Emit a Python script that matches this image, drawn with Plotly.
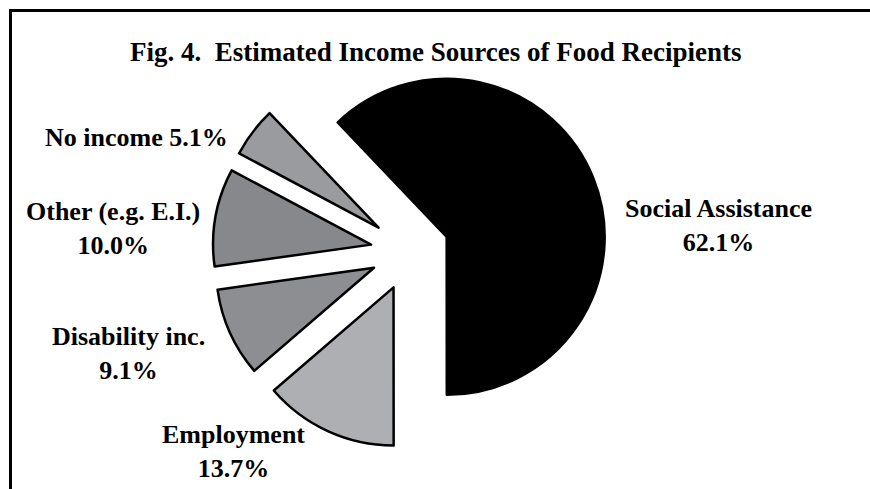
import plotly.graph_objects as go

# ---- data ----
categories = ["Social Assistance", "Employment", "Disability inc.", "Other (e.g. E.I.)", "No income"]
values = [62.1, 13.7, 9.1, 10.0, 5.1]
label_lines = [True, True, True, True, False]  # two-line label?

colors = ["#000000", "#aeafb3", "#8d8e92", "#87888c", "#9a9b9f"]

W, H = 870, 489
FONT = "'Liberation Serif', 'Times New Roman', Times, serif"

fig = go.Figure()
fig.add_trace(go.Pie(
    labels=categories,
    values=values,
    sort=False,
    direction="clockwise",
    rotation=-43.6,
    pull=[0.25] * len(values),
    marker=dict(colors=colors, line=dict(color="#000000", width=2.5)),
    textinfo="none",
    hoverinfo="label+percent",
    showlegend=False,
    domain=dict(x=[212.5 / W, 607.5 / W], y=[1 - 449 / H, 1 - 54 / H]),
))

# label placement (pixel centres)
label_pos = [(718, 225), (233, 451), (128, 353), (113, 228), (136, 137)]

annotations = []
for cat, v, two, (px, py) in zip(categories, values, label_lines, label_pos):
    sep = "<br>" if two else " "
    annotations.append(dict(
        x=px / W, y=1 - py / H, xref="paper", yref="paper",
        text=f"<b>{cat}{sep}{v:.1f}%</b>",
        showarrow=False, xanchor="center", yanchor="middle",
        font=dict(family=FONT, size=26, color="#000000"),
        align="center",
    ))

annotations.append(dict(
    x=435 / W, y=1 - 52 / H, xref="paper", yref="paper",
    text="<b>Fig. 4.  Estimated Income Sources of Food Recipients</b>",
    showarrow=False, xanchor="center", yanchor="middle",
    font=dict(family=FONT, size=27, color="#000000"),
))

# frame (its right and bottom edges fall outside the visible area)
shapes = [
    dict(type="rect", xref="paper", yref="paper",
         x0=10.5 / W, x1=1.1, y0=-0.1, y1=1 - 10.5 / H,
         line=dict(color="#000000", width=3), fillcolor="rgba(0,0,0,0)", layer="above"),
]

fig.update_layout(
    width=W, height=H,
    margin=dict(l=0, r=0, t=0, b=0),
    paper_bgcolor="#ffffff",
    plot_bgcolor="#ffffff",
    annotations=annotations,
    shapes=shapes,
)

fig.write_html("out.html", config={"displayModeBar": False})
